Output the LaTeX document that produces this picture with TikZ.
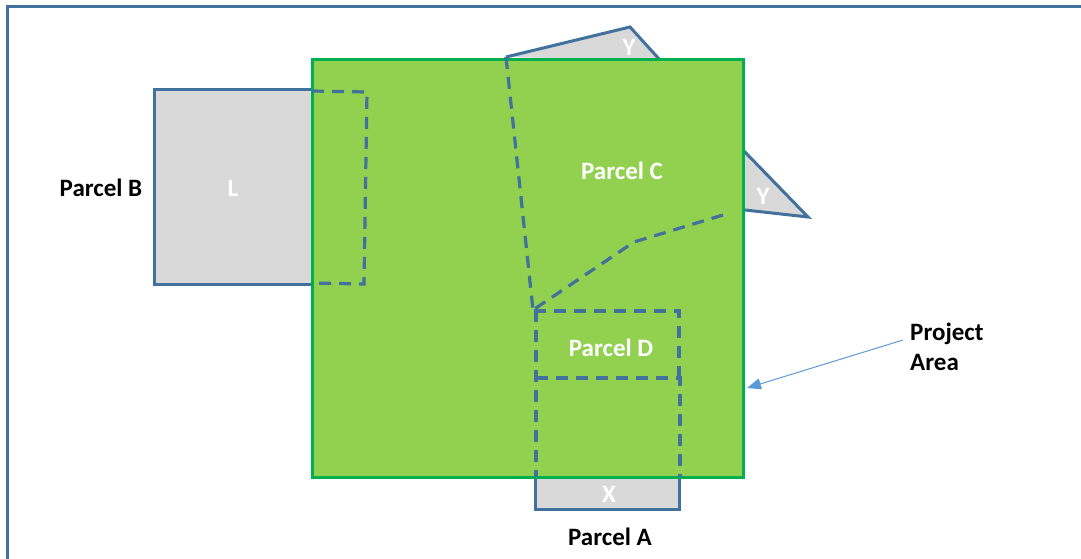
\documentclass[tikz,border=0pt]{standalone}
\usepackage{fontspec}
\setmainfont{Carlito}
\usetikzlibrary{arrows.meta}
\definecolor{pgreen}{HTML}{92D050}
\definecolor{bgreen}{HTML}{00B050}
\definecolor{pblue}{HTML}{41719C}
\definecolor{pgray}{HTML}{D9D9D9}
\definecolor{lblue}{HTML}{5B9BD5}
\begin{document}
\begin{tikzpicture}[x=1pt,y=-1pt,
  parcel/.style={fill=pgray,draw=pblue,line width=3pt,line join=miter},
  dashline/.style={draw=pblue,line width=3.2pt,dash pattern=on 12pt off 8pt},
  wlabel/.style={text=white,font=\fontsize{25}{30}\selectfont\bfseries,inner sep=0pt},
  blabel/.style={text=black,font=\fontsize{25}{30}\selectfont\bfseries,inner sep=0pt}]
\useasboundingbox (0,0) rectangle (1081,559);
% frame
\draw[pblue,line width=2.5pt] (7.5,600) -- (7.5,6.5) -- (1100,6.5);
% gray parcels
\draw[parcel] (312,90) -- (154,90) -- (154,284) -- (312,284);
\fill[pgray] (312,90) rectangle (330,284);
\fill[pgray] (506,57) -- (630,27) -- (660,60) -- cycle;
\draw[parcel] (506,57) -- (630,27) -- (660,60);
\fill[pgray] (743,150) -- (808,217) -- (745,210) -- cycle;
\draw[parcel] (743,150) -- (808,217) -- (745,210);
\fill[pgray] (535,470) rectangle (679,509);
\draw[parcel] (535,470) -- (535,509) -- (679,509) -- (679,470);
% project area
\draw[fill=pgreen,draw=bgreen,line width=3pt] (312,60) rectangle (743,477);
% dashed boundaries
\draw[dashline] (312,91) -- (367,92) -- (364,284) -- (312,283);
\draw[dashline] (506,57) -- (533,310);
\draw[dashline] (723,215) -- (634,242) -- (533,310);
\draw[dashline] (534,311) -- (679,311) -- (679,377);
\draw[dashline] (536,310) -- (536,477);
\draw[dashline] (536,378) -- (680,378) -- (680,477);
% labels
\node[wlabel] (lc) at (622,171) {Parcel C};
\node[wlabel] (ll) at (233,188) {L};
\node[blabel] (lb) at (101,188) {Parcel B};
\node[wlabel] (ly1) at (629,47) {Y};
\node[wlabel] (ly2) at (763,196) {Y};
\node[wlabel] (ld) at (611,348) {Parcel D};
\node[wlabel] (lx) at (609,494) {X};
\node[blabel] (la) at (610,537) {Parcel A};
\node[blabel,anchor=north west,align=left] (lp) at (910,323) {Project\\Area};
\coordinate (ps) at (903,340);
\coordinate (pe) at (747,388);
\draw[lblue,line width=1pt,-{Triangle[length=14pt,width=11pt]}] (ps) -- (pe);
\end{tikzpicture}
\end{document}
